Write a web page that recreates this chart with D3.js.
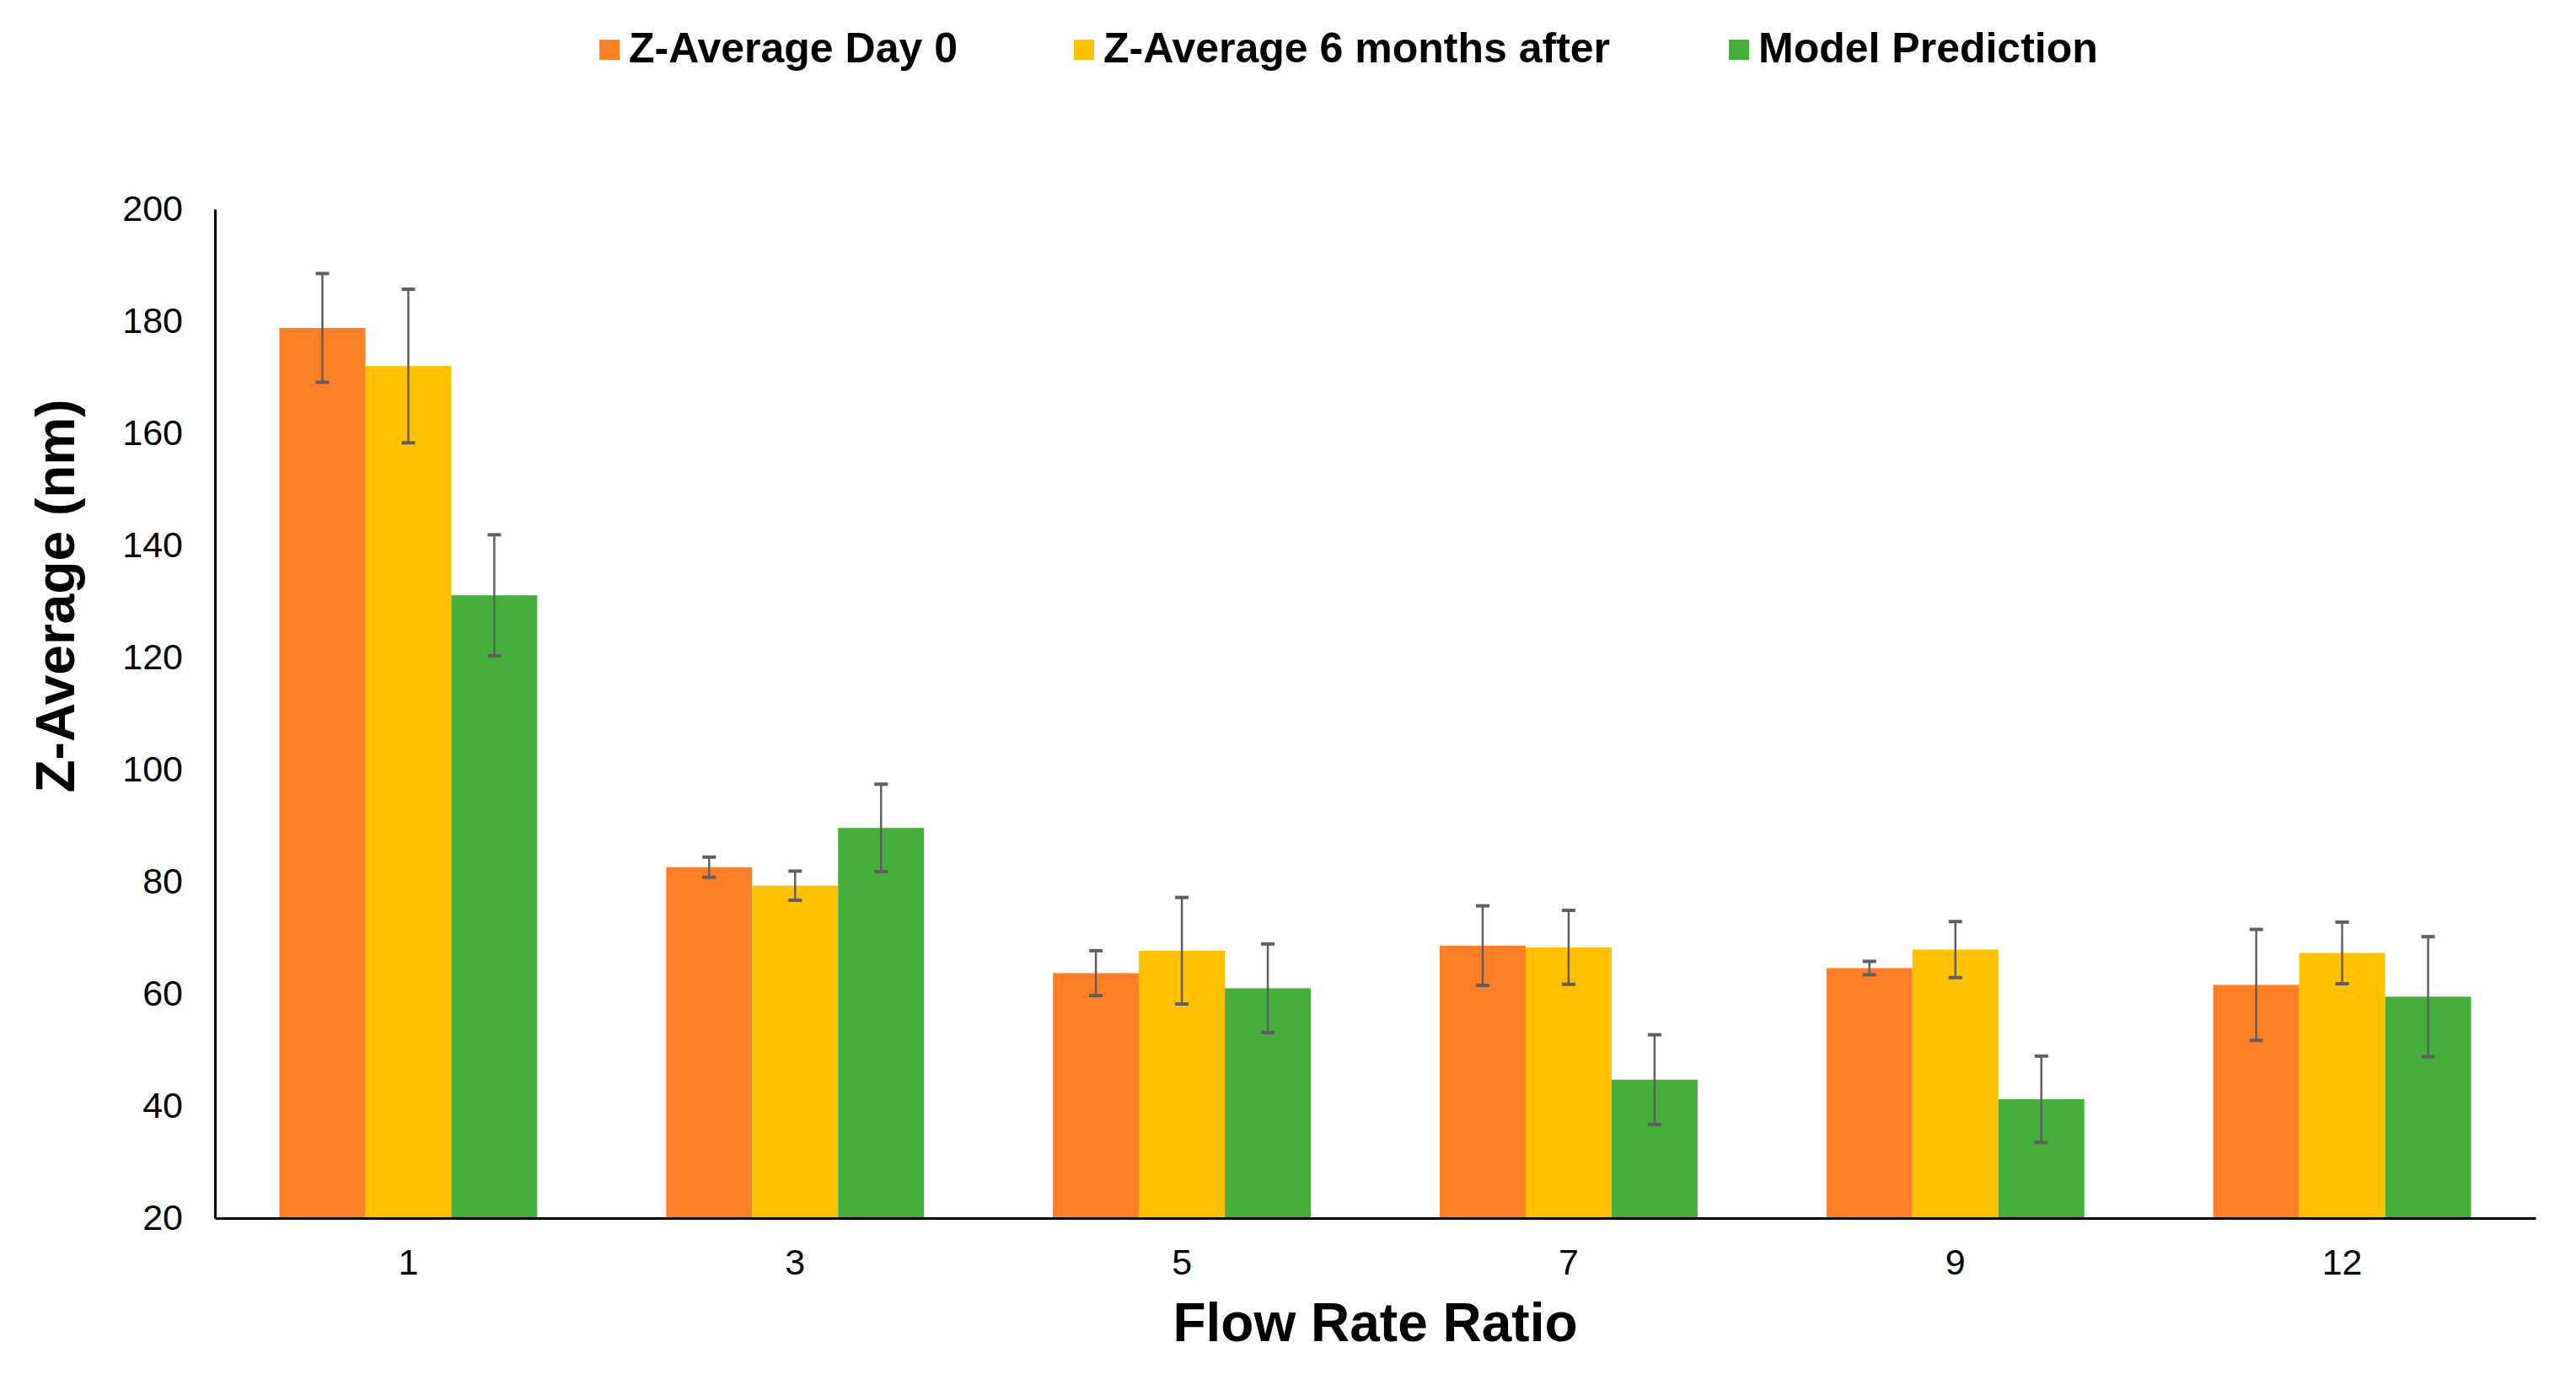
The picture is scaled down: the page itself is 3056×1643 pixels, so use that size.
<!DOCTYPE html>
<html>
<head>
<meta charset="utf-8">
<script src="https://cdn.jsdelivr.net/npm/d3@7"></script>
<style>
  body { margin: 0; background: #fff; }
  svg { display: block; font-family: Arial, "Liberation Sans", sans-serif; }
</style>
</head>
<body>
<div id="chart"></div>
<script>
// Flow rate ratios on the x axis
const ratios = ['1', '3', '5', '7', '9', '12'];
const seriesNames = ['Z-Average Day 0', 'Z-Average 6 months after', 'Model Prediction'];
const seriesColors = ['#FE7F27', '#FFC000', '#46AF3C'];

// values (nm)
const day0 = [178.8, 82.6, 63.7, 68.6, 64.6, 61.6];
const day0Err = [9.7, 1.8, 4.0, 7.1, 1.2, 9.9];
const month6 = [172.0, 79.3, 67.7, 68.3, 67.9, 67.3];
const month6Err = [13.7, 2.6, 9.5, 6.6, 5.0, 5.5];
const model = [131.1, 89.6, 61.0, 44.7, 41.2, 59.5];
const modelErr = [10.8, 7.8, 7.9, 8.0, 7.7, 10.7];

const yTicks = [20, 40, 60, 80, 100, 120, 140, 160, 180, 200];

const width = 3056;
const height = 1643;
const margin = {top: 248, right: 48, bottom: 198, left: 255};

const svg = d3.select('#chart')
  .append('svg')
  .attr('width', width)
  .attr('height', height);

const x0 = d3.scaleBand()
  .domain(ratios)
  .range([margin.left, width - margin.right])
  .paddingInner(1 / 3)
  .paddingOuter(1 / 6);

const x1 = d3.scaleBand()
  .domain(seriesNames)
  .range([0, x0.bandwidth()]);

const y = d3.scaleLinear()
  .domain([20, 200])
  .range([height - margin.bottom, margin.top]);

const color = d3.scaleOrdinal().domain(seriesNames).range(seriesColors);

// long form rows: one per bar
const vals = [day0, month6, model];
const errs = [day0Err, month6Err, modelErr];
const rows = [];
ratios.forEach((r, i) => {
  seriesNames.forEach((s, j) => {
    rows.push({ratio: r, series: s, value: vals[j][i], err: errs[j][i]});
  });
});

// bars
svg.append('g')
  .selectAll('rect')
  .data(rows)
  .join('rect')
  .attr('x', d => x0(d.ratio) + x1(d.series))
  .attr('y', d => y(d.value))
  .attr('width', x1.bandwidth())
  .attr('height', d => y(20) - y(d.value))
  .attr('fill', d => color(d.series));

// error bars
const eb = svg.append('g')
  .attr('stroke', '#5f5f5f')
  .attr('stroke-width', 2.5)
  .selectAll('g')
  .data(rows)
  .join('g')
  .attr('transform', d => `translate(${x0(d.ratio) + x1(d.series) + x1.bandwidth() / 2},0)`);
eb.append('line')
  .attr('y1', d => y(d.value + d.err))
  .attr('y2', d => y(d.value - d.err));
eb.append('line')
  .attr('x1', -8).attr('x2', 8)
  .attr('y1', d => y(d.value + d.err))
  .attr('y2', d => y(d.value + d.err))
  .attr('stroke-width', 4);
eb.append('line')
  .attr('x1', -8).attr('x2', 8)
  .attr('y1', d => y(d.value - d.err))
  .attr('y2', d => y(d.value - d.err))
  .attr('stroke-width', 4);

// y axis
const yAxis = svg.append('g')
  .attr('transform', `translate(${margin.left},0)`)
  .call(d3.axisLeft(y).tickValues(yTicks).tickSize(0).tickPadding(38));
yAxis.select('.domain').attr('stroke', '#000').attr('stroke-width', 3);
yAxis.selectAll('text')
  .attr('font-size', 43)
  .attr('font-family', 'Arial, "Liberation Sans", sans-serif')
  .attr('fill', '#000');

// x axis
const xAxis = svg.append('g')
  .attr('transform', `translate(0,${height - margin.bottom})`)
  .call(d3.axisBottom(x0).tickSize(0).tickPadding(36));
xAxis.select('.domain').attr('stroke', '#000').attr('stroke-width', 3);
xAxis.selectAll('text')
  .attr('font-size', 43)
  .attr('font-family', 'Arial, "Liberation Sans", sans-serif')
  .attr('fill', '#000');

// axis titles
svg.append('text')
  .attr('x', (margin.left + width - margin.right) / 2)
  .attr('y', 1591)
  .attr('text-anchor', 'middle')
  .attr('font-size', 64)
  .attr('font-weight', 'bold')
  .text('Flow Rate Ratio');

svg.append('text')
  .attr('transform', 'translate(88,707) rotate(-90)')
  .attr('text-anchor', 'middle')
  .attr('font-size', 64)
  .attr('font-weight', 'bold')
  .text('Z-Average (nm)');

// legend
const legendX = [711, 1274, 2051];
const legend = svg.append('g')
  .selectAll('g')
  .data(seriesNames)
  .join('g')
  .attr('transform', (d, i) => `translate(${legendX[i]},47)`);
legend.append('rect')
  .attr('width', 24)
  .attr('height', 24)
  .attr('fill', d => color(d));
legend.append('text')
  .attr('x', 35)
  .attr('y', 27)
  .attr('font-size', 50)
  .attr('font-weight', 'bold')
  .text(d => d);
</script>
</body>
</html>
